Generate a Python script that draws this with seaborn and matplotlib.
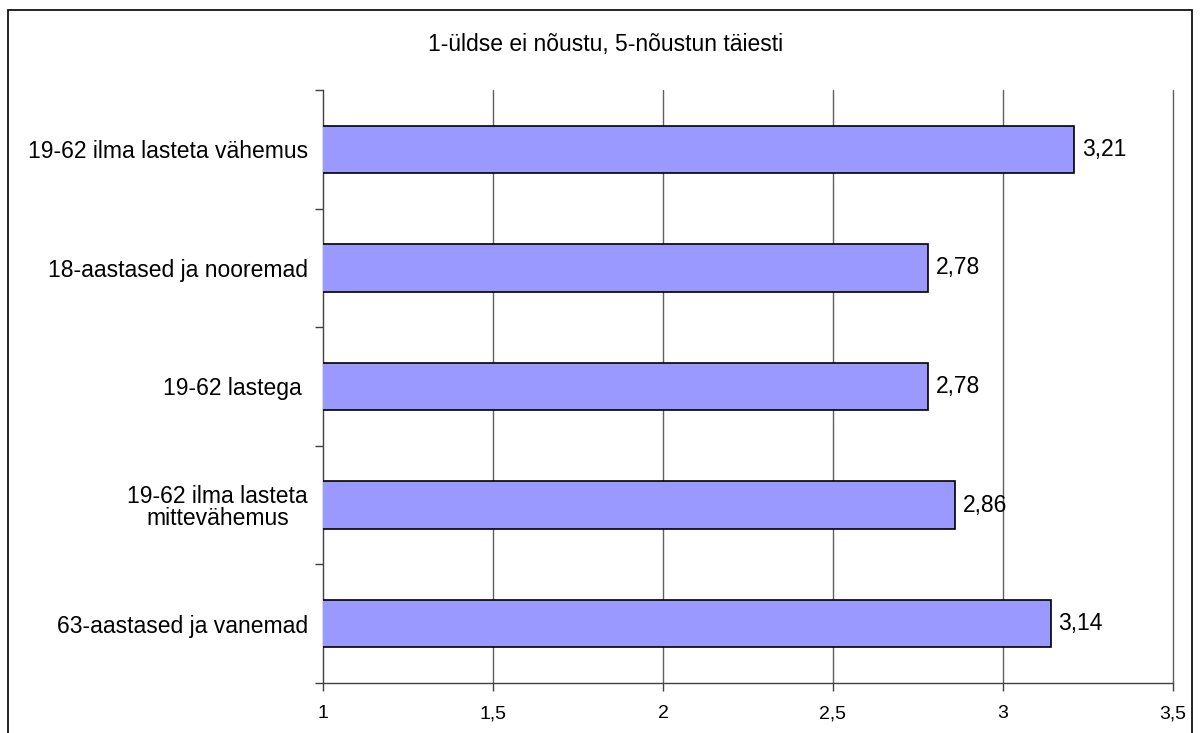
import matplotlib
matplotlib.use("Agg")
import matplotlib.pyplot as plt
import seaborn as sns
import pandas as pd
from matplotlib.patches import Rectangle

categories = [
    "19-62 ilma lasteta vähemus",
    "18-aastased ja nooremad",
    "19-62 lastega ",
    "19-62 ilma lasteta\nmittevähemus",
    "63-aastased ja vanemad",
]
values = [3.21, 2.78, 2.78, 2.86, 3.14]
value_labels = ["3,21", "2,78", "2,78", "2,86", "3,14"]
xticks = [1, 1.5, 2, 2.5, 3, 3.5]
xtick_labels = ["1", "1,5", "2", "2,5", "3", "3,5"]
title = "1-üldse ei nõustu, 5-nõustun täiesti"

sns.set_theme(style="white")
plt.rcParams["font.family"] = ["Liberation Sans", "DejaVu Sans"]
plt.rcParams["text.color"] = "black"
plt.rcParams["xtick.color"] = "black"
plt.rcParams["ytick.color"] = "black"

df = pd.DataFrame({"cat": categories, "val": values})

fig = plt.figure(figsize=(12, 7.33), dpi=100)
ax = fig.add_axes([323/1200, 1 - 683/733, (1173-323)/1200, (683-90)/733])

sns.barplot(data=df, x="val", y="cat", orient="h", color="#9999FF",
            saturation=1, edgecolor="black", linewidth=1.2, width=0.4, ax=ax, zorder=3)

ax.set_xlim(1, 3.5)
ax.set_ylim(len(categories) - 0.5, -0.5)
ax.set_xlabel("")
ax.set_ylabel("")

# grid lines
for xv in xticks[1:]:
    ax.axvline(xv, color="#606060", linewidth=1, zorder=1, clip_on=False)

# spines
for s in ["top", "right"]:
    ax.spines[s].set_visible(False)
ax.spines["left"].set_color("#404040")
ax.spines["bottom"].set_color("#404040")
ax.spines["left"].set_linewidth(1)
ax.spines["bottom"].set_linewidth(1)

ax.set_xticks(xticks)
ax.set_xticklabels(xtick_labels, fontsize=14, color="black")
ax.tick_params(axis="x", which="major", direction="out", length=6, width=1,
               color="#404040", labelcolor="black", pad=10, bottom=True)

ax.set_yticks(range(len(categories)))
ax.set_yticklabels(categories, fontsize=16.5, multialignment="center",
                   linespacing=0.95, color="black")
ax.set_yticks([i - 0.5 for i in range(len(categories) + 1)], minor=True)
ax.tick_params(axis="y", which="major", length=0, pad=11, labelcolor="black")
ax.tick_params(axis="y", which="minor", direction="out", length=6, width=1,
               color="#404040", left=True)

# value labels
for i, (v, lab) in enumerate(zip(values, value_labels)):
    ax.text(v + 0.022, i, lab, va="center", ha="left", fontsize=16.5, color="black")

fig.text(606/1200, 1 - 45/733, title, ha="center", va="center", fontsize=16.5,
         color="black")

# outer border
fig.patches.append(Rectangle((8/1200, -0.05), (1192-8)/1200, 1 - 10/733 + 0.05,
                             transform=fig.transFigure, fill=False,
                             edgecolor="black", linewidth=1.2))

fig.savefig("out.png", dpi=100)
